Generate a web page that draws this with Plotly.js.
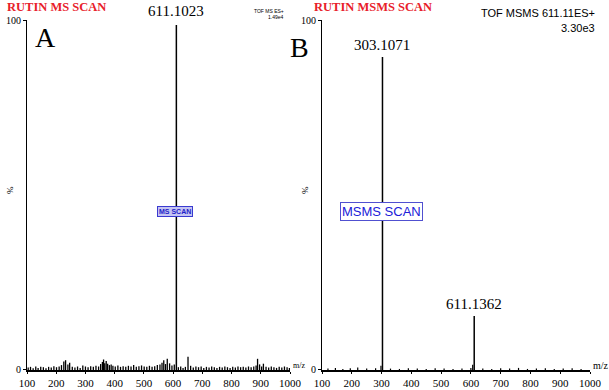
<!DOCTYPE html>
<html><head><meta charset="utf-8">
<script src="https://cdn.plot.ly/plotly-3.0.1.min.js"></script>
<style>html,body{margin:0;padding:0;background:#fff}#c{width:609px;height:390px}</style>
</head><body><div id="c"></div>
<script>
// Panel A: RUTIN MS SCAN
const peaksA_mz = [611.1023];
const peaksA_int = [98.6];
const noiseA_mz = [104,112,121,130,138,147,156,165,174,183,192,201,210,218,226,232,240,246,255,264,273,282,291,300,309,318,327,336,345,352,358,362,366,371,376,382,388,394,402,411,420,429,438,447,456,465,474,483,492,501,510,519,528,537,546,555,562,568,574,580,588,596,604,618,626,634,642,651,660,669,678,687,696,705,714,723,732,741,750,759,768,777,786,795,804,813,822,831,840,849,858,867,876,884,889,896,903,909,918,927,936,945,954,963,972,981,990,998];
const noiseA_int = [0.7,0.9,0.5,1.0,0.6,0.9,0.8,0.5,0.9,0.7,1.1,0.8,1.0,1.4,2.4,2.8,1.6,2.1,0.9,0.7,1.0,0.6,1.3,1.0,0.8,1.1,0.9,1.2,1.0,1.7,2.3,3.0,1.9,2.6,1.8,1.4,1.6,1.2,1.0,1.3,0.9,1.1,0.9,1.2,1.0,1.4,0.9,1.1,1.3,1.0,0.9,1.2,0.9,1.1,1.4,1.6,2.1,2.8,1.7,3.2,1.9,1.3,1.6,0.8,1.0,0.6,0.9,3.8,1.2,0.7,1.0,0.8,1.0,0.6,0.9,0.7,1.0,0.8,0.6,0.9,0.7,1.0,0.8,0.6,0.9,0.7,1.0,0.8,0.9,0.7,1.0,0.8,1.0,1.3,3.2,1.6,1.0,1.8,0.9,0.7,1.0,0.8,0.6,0.9,0.7,1.0,0.8,0.6];
// Panel B: RUTIN MSMS SCAN
const peaksB_mz = [303.1071, 611.1362];
const peaksB_int = [89.4, 15.4];
const noiseB_mz = [120,145,170,195,220,250,280,298,330,360,390,420,450,480,510,540,570,600,606,640,670,700,730,760,790,820,850,880,910,940,970];
const noiseB_int = [0.4,0.6,0.3,0.5,0.7,0.4,0.5,1.2,0.4,0.3,0.5,0.4,0.3,0.5,0.4,0.3,0.4,0.6,1.5,0.4,0.3,0.5,0.4,0.6,0.3,0.4,0.5,0.3,0.4,0.5,0.3];
const xTickVals = [100,200,300,400,500,600,700,800,900,1000];
const xTickText = ['100','200','300','400','500','600','700','800','900','1000'];

function sticks(mz, it){
  const x=[], y=[];
  for(let i=0;i<mz.length;i++){ x.push(mz[i],mz[i],null); y.push(0,it[i],null); }
  return {x,y};
}
const nA = sticks(noiseA_mz, noiseA_int), pA = sticks(peaksA_mz, peaksA_int);
const nB = sticks(noiseB_mz, noiseB_int), pB = sticks(peaksB_mz, peaksB_int);

const serif = 'Liberation Serif, Times New Roman, serif';
const sans = 'Liberation Sans, Arial, sans-serif';

const traces = [
  {x:nA.x,y:nA.y,xaxis:'x',yaxis:'y',mode:'lines',line:{color:'#000',width:1.3},hoverinfo:'skip'},
  {x:pA.x,y:pA.y,xaxis:'x',yaxis:'y',mode:'lines',line:{color:'#000',width:1.5},hoverinfo:'skip'},
  {x:nB.x,y:nB.y,xaxis:'x2',yaxis:'y2',mode:'lines',line:{color:'#000',width:1.2},hoverinfo:'skip'},
  {x:pB.x,y:pB.y,xaxis:'x2',yaxis:'y2',mode:'lines',line:{color:'#000',width:1.5},hoverinfo:'skip'}
];

const xax = (dom, anchor) => ({domain:dom, anchor:anchor, range:[100,1000], tickvals:xTickVals, ticktext:xTickText,
  showgrid:false, zeroline:false, showline:true, linecolor:'#000', linewidth:2, ticks:'outside', ticklen:2, tickcolor:'#000',
  tickfont:{family:serif,size:11,color:'#000'}, fixedrange:true});
const yax = (anchor) => ({domain:[0.0513,0.9487], anchor:anchor, range:[0,100], tickvals:[0,100], ticktext:['0','100'],
  showgrid:false, zeroline:false, showline:true, linecolor:'#000', linewidth:1, ticks:'outside', ticklen:3, tickcolor:'#000',
  tickfont:{family:serif,size:10,color:'#000'}, fixedrange:true});

const ann = [
  {xref:'paper',yref:'paper',x:5/609,y:1-7/390,xanchor:'left',yanchor:'middle',text:'<b>RUTIN MS SCAN</b>',showarrow:false,font:{family:serif,size:12.5,color:'#e8202a'}},
  {xref:'paper',yref:'paper',x:312/609,y:1-7/390,xanchor:'left',yanchor:'middle',text:'<b>RUTIN MSMS SCAN</b>',showarrow:false,font:{family:serif,size:12.5,color:'#e8202a'}},
  {xref:'paper',yref:'paper',x:33/609,y:1-37/390,xanchor:'left',yanchor:'middle',text:'A',showarrow:false,font:{family:serif,size:28,color:'#000'}},
  {xref:'paper',yref:'paper',x:288/609,y:1-47/390,xanchor:'left',yanchor:'middle',text:'B',showarrow:false,font:{family:serif,size:28,color:'#000'}},
  {xref:'paper',yref:'paper',x:286/609,y:1-11/390,xanchor:'right',yanchor:'middle',text:'TOF MS ES+',showarrow:false,font:{family:sans,size:5,color:'#000'}},
  {xref:'paper',yref:'paper',x:286/609,y:1-17/390,xanchor:'right',yanchor:'middle',text:'1.49e4',showarrow:false,font:{family:sans,size:5,color:'#000'}},
  {xref:'paper',yref:'paper',x:597/609,y:1-13/390,xanchor:'right',yanchor:'middle',text:'TOF MSMS 611.11ES+',showarrow:false,font:{family:sans,size:11,color:'#000'}},
  {xref:'paper',yref:'paper',x:597/609,y:1-28/390,xanchor:'right',yanchor:'middle',text:'3.30e3',showarrow:false,font:{family:sans,size:11,color:'#000'}},
  {xref:'x',yref:'y',x:peaksA_mz[0],y:peaksA_int[0],yshift:4,xanchor:'center',yanchor:'bottom',text:String(peaksA_mz[0].toFixed(4)),showarrow:false,font:{family:serif,size:15,color:'#000'}},
  {xref:'x2',yref:'y2',x:peaksB_mz[0],y:peaksB_int[0],yshift:2,xanchor:'center',yanchor:'bottom',text:String(peaksB_mz[0].toFixed(4)),showarrow:false,font:{family:serif,size:15,color:'#000'}},
  {xref:'x2',yref:'y2',x:peaksB_mz[1],y:peaksB_int[1],yshift:2,xanchor:'center',yanchor:'bottom',text:String(peaksB_mz[1].toFixed(4)),showarrow:false,font:{family:serif,size:15,color:'#000'}},
  {xref:'paper',yref:'paper',x:10/609,y:1-190/390,xanchor:'center',yanchor:'middle',text:'%',textangle:-90,showarrow:false,font:{family:serif,size:9,color:'#000'}},
  {xref:'paper',yref:'paper',x:305/609,y:1-190/390,xanchor:'center',yanchor:'middle',text:'%',textangle:-90,showarrow:false,font:{family:serif,size:9,color:'#000'}},
  {xref:'paper',yref:'paper',x:291/609,y:1-365/390,xanchor:'left',yanchor:'middle',text:'m/z',showarrow:false,font:{family:serif,size:8,color:'#000'}},
  {xref:'paper',yref:'paper',x:591/609,y:1-365/390,xanchor:'left',yanchor:'middle',text:'m/z',showarrow:false,font:{family:serif,size:10,color:'#000'}},
  {xref:'paper',yref:'paper',x:175/609,y:1-211/390,xanchor:'center',yanchor:'middle',text:'<b>MS SCAN</b>',showarrow:false,font:{family:sans,size:7,color:'#1e1ec8'},bgcolor:'#c4c4f2',bordercolor:'#3a3ad0',borderwidth:1,borderpad:1},
  {xref:'paper',yref:'paper',x:381/609,y:1-211/390,xanchor:'center',yanchor:'middle',text:'MSMS SCAN',showarrow:false,font:{family:sans,size:13,color:'#2020d8'},bgcolor:'#ffffff',bordercolor:'#5050d0',borderwidth:1,borderpad:1}
];

const layout = {
  width:609, height:390, margin:{l:0,r:0,t:0,b:0}, paper_bgcolor:'#fff', plot_bgcolor:'rgba(0,0,0,0)', showlegend:false,
  xaxis: xax([27/609, 290/609], 'y'),
  yaxis: yax('x'),
  xaxis2: xax([322/609, 590/609], 'y2'),
  yaxis2: yax('x2'),
  annotations: ann
};
Plotly.newPlot('c', traces, layout, {displayModeBar:false, staticPlot:true});
</script>
</body></html>
